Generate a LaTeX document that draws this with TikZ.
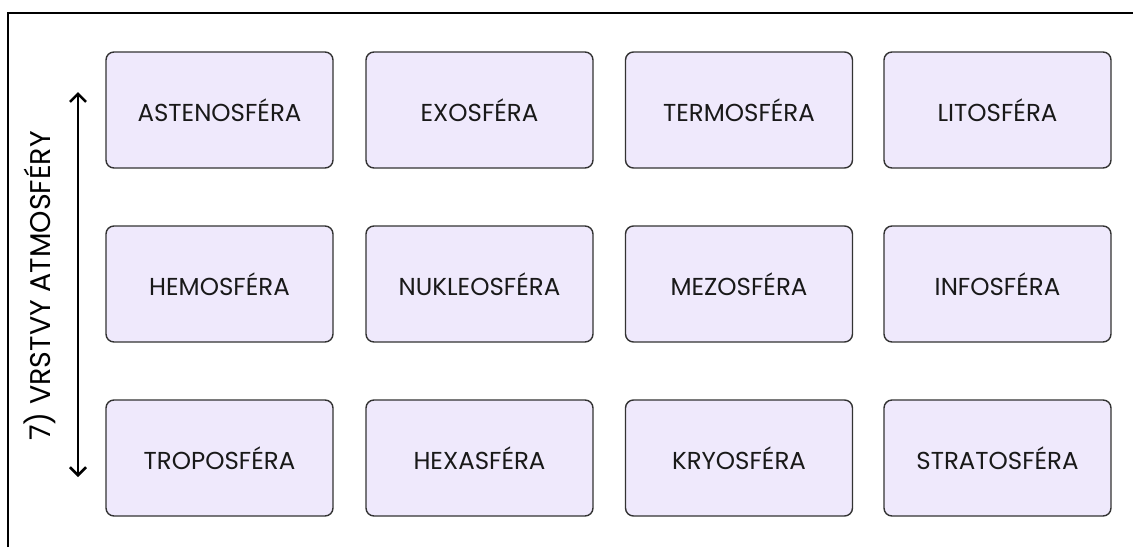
\documentclass[tikz,border=0pt]{standalone}
\usepackage{fontspec}
\usetikzlibrary{arrows.meta}
\setmainfont{Poppins}
\definecolor{boxfill}{HTML}{EFE9FC}
\definecolor{boxline}{HTML}{333333}
\begin{document}
\begin{tikzpicture}[x=1pt,y=-1pt,
  layerbox/.style={draw=boxline, fill=boxfill, line width=1.4pt, rounded corners=8pt,
    minimum width=227pt, minimum height=116pt, inner sep=0pt,
    font=\fontsize{24.5}{28}\selectfont, text=black!90},
  axislabel/.style={font=\fontsize{28.5}{32}\selectfont, rotate=90, inner sep=0pt}]
\useasboundingbox (0,0) rectangle (1133,547);
\fill[white] (0,0) rectangle (1133,547);
\draw[line width=2.2pt] (8,547) -- (8,13) -- (1133,13);
% row 1
\node[layerbox] (astenosfera) at (219.5,110) {ASTENOSFÉRA};
\node[layerbox] (exosfera) at (479.5,110) {EXOSFÉRA};
\node[layerbox] (termosfera) at (739,110) {TERMOSFÉRA};
\node[layerbox] (litosfera) at (997.5,110) {LITOSFÉRA};
% row 2
\node[layerbox] (hemosfera) at (219.5,284) {HEMOSFÉRA};
\node[layerbox] (nukleosfera) at (479.5,284) {NUKLEOSFÉRA};
\node[layerbox] (mezosfera) at (739,284) {MEZOSFÉRA};
\node[layerbox] (infosfera) at (997.5,284) {INFOSFÉRA};
% row 3
\node[layerbox] (troposfera) at (219.5,458) {TROPOSFÉRA};
\node[layerbox] (hexasfera) at (479.5,458) {HEXASFÉRA};
\node[layerbox] (kryosfera) at (739,458) {KRYOSFÉRA};
\node[layerbox] (stratosfera) at (997.5,458) {STRATOSFÉRA};
% axis
\coordinate (axtop) at (78,92);
\coordinate (axbot) at (78,477);
\draw[line width=2.4pt, arrows={Straight Barb[length=8pt,width=16pt,line width=2.6pt]-Straight Barb[length=8pt,width=16pt,line width=2.6pt]}] (axtop) -- (axbot);
\node[axislabel] (axlabel) at (40,286) {7) VRSTVY ATMOSFÉRY};
\end{tikzpicture}
\end{document}
